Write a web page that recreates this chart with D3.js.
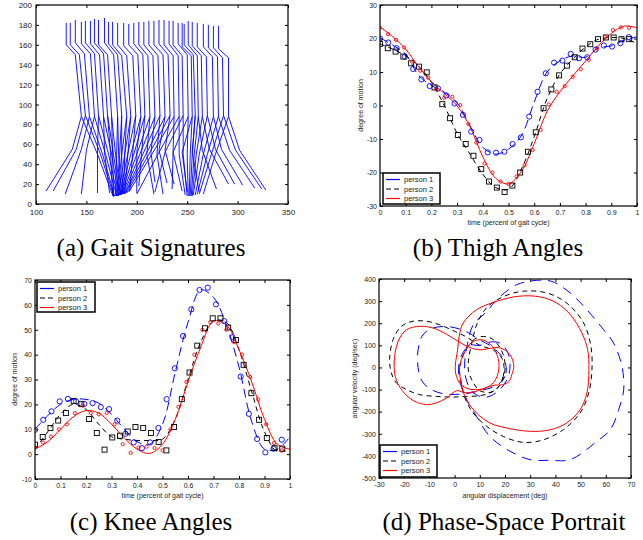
<!DOCTYPE html>
<html>
<head>
<meta charset="utf-8">
<script src="https://cdn.jsdelivr.net/npm/d3@7"></script>
<style>
  body { margin: 0; background: #fff; }
  svg { display: block; background: #fff; }
</style>
</head>
<body>
<svg id="fig" width="643" height="540"></svg>
<script>
// ---------- (a) gait signatures: one value per video frame ----------
const sigNeckX     = [130,134,139,145,149,154,158,162,168,172,176,181,187,192,197,202,207,212,217,222,227,232,236,241,245,247,251,255,260,266,271,276,281];
const sigNeckY     = [182,182,185,183,184,184,186,185,187,183,183,182,182,181,182,183,183,184,184,185,185,184,184,182,182,181,184,183,182,181,180,179,179];
const sigShoulderY = [160,160,162,161,162,161,162,160,162,161,160,160,159,160,161,160,160,160,160,161,160,161,160,161,158,160,160,159,158,158,157,157,156];
const sigChestX    = [139,143,148,154,158,163,167,171,177,181,185,190,196,201,206,211,216,221,226,231,236,241,245,250,254,256,260,264,269,275,280,285,291];
const sigChestY    = [150,150,151,151,151,150,151,150,150,150,149,149,149,150,150,149,149,149,150,150,149,149,149,150,149,150,149,149,148,148,148,147,147];
const sigHipX      = [145,149,153,158,162,167,171,175,181,185,190,194,199,204,208,213,218,223,228,233,237,242,246,251,255,258,261,265,270,276,281,286,291];
const sigHipY      = [88,89,88,88,89,88,89,88,88,89,88,88,89,88,89,88,88,89,88,89,88,88,89,88,88,89,88,88,89,88,88,89,88];
const sigKneeAX    = [161,164,166,169,172,175,177,179,182,185,188,191,196,200,205,210,214,220,222,228,236,242,246,250,253,255,257,259,262,266,270,274,278];
const sigKneeAY    = [50,50,50,50,50,50,49,49,49,49,49,48,52,52,54,50,52,50,54,54,52,50,50,50,50,50,50,50,50,50,50,50,50];
const sigAnkleAX   = [176,177,178,180,181,182,183,184,185,186,187,188,193,200,202,217,218,226,230,237,245,248,250,251,252,253,254,255,256,258,260,262,266];
const sigAnkleAY   = [9,9,8,8,8,8,9,9,9,10,10,10,13,11,18,10,22,10,21,20,13,9,8,8,8,8,8,8,9,9,10,10,10];
const sigKneeBX    = [136,140,145,150,161,168,174,176,180,183,185,188,191,194,197,200,203,206,209,212,215,222,228,236,245,255,265,272,278,284,292,298,302];
const sigKneeBY    = [55,55,55,54,54,52,50,50,50,50,50,50,50,50,50,50,50,50,50,50,50,52,52,52,52,52,54,55,55,55,54,54,54];
const sigAnkleBX   = [110,117,129,145,161,173,176,177,179,180,181,182,183,184,185,186,187,188,189,190,192,200,218,235,250,262,279,291,297,305,317,324,328];
const sigAnkleBY   = [13,13,10,10,11,11,8,7,8,8,8,9,9,9,10,10,10,10,11,11,12,10,12,15,12,12,15,20,20,19,16,15,14];

// ---------- (b) thigh angles: samples over one gait cycle ----------
const thighP1 = [20,18.8,17.1,14.6,10.9,7.8,5.8,5.1,3.0,0.6,-2.8,-7.8,-10.3,-14,-14.1,-13.8,-11.5,-9.5,-3.3,4.1,9.6,12.8,13.4,15.4,14.1,14.4,16.7,17.9,17.6,18.6,20.4];
const thighP2 = [18.4,17.1,16.1,14.6,12.6,11.6,9.9,5.4,0.4,-3.8,-8.8,-11.5,-15,-19,-22.7,-24.5,-25.8,-23.9,-20,-13.8,-8,-0.8,4.8,9.0,11.9,14.4,17,18.3,19.8,20.3,20.3,19.8,19.8];
const thighP3 = [23.2,21.3,19.6,17.3,13.1,10.4,8.3,4.8,2.3,2.6,0.1,-5.5,-11.1,-17.3,-20,-22.7,-23.4,-21.2,-17.8,-13.3,-7.3,0.3,4.1,5.8,8.6,10.8,13.6,17.1,20.5,22.5,23.3,23.2];
// fitted curves, every 0.05 of the cycle
const thighFitP1 = [20.2,18,15.3,9,6,4,0.8,-6,-12.5,-14.5,-13,-9,1,10,13.3,14.8,14.4,17.2,17.8,19.5,20.5];
const thighFitP2 = [18.4,16.8,14.8,11.8,7,0,-8.3,-14.5,-20.5,-24.5,-25,-19,-9.3,2,9.4,13.8,17.5,19.8,20.3,20,18.5];
const thighFitP3 = [23.5,20.5,16.8,11.6,7.1,3.6,-0.1,-6.3,-15.3,-21.7,-23.4,-19.7,-11.4,-1.8,4.1,8.8,13.3,17.8,21.5,23.7,23.2];

// ---------- (c) knee angles ----------
const kneeP1 = [9.8,13.8,17.2,21.2,22.2,21.2,20.2,20.5,18.9,18.1,13.5,8.2,4.7,2.4,4.7,10.5,22.1,34.5,47.5,58.2,66,66.9,60.2,53.5,47,31.2,16.2,6.1,0.7,2.2,5.8];
const kneeP2 = [3.8,6.9,10.5,13.5,16.5,21.4,20.1,14.1,8.5,1.8,6.7,7.4,9.1,10.9,10.5,8.5,4.9,1.5,10.9,22.1,32.8,43.6,50.6,54.6,54.6,50.9,45.9,35.9,24.5,13.8,6.5,2.4,2.2];
const kneeP3 = [2.7,4.7,7,10,12,16.5,19.5,16.5,16,16.5,12,4,0.5,2.7,3,2.5,1.5,10,19,29,40,50,53,52.5,50,45,40,31,22,12,4.5,1.5];
const kneeFitP1 = [10,15.5,20,22,22,20.5,16,10,5,4,12,33,53,66,63,52,35,13,2,2,7];
const kneeFitP2 = [2,9,16,20,18,12,7,6,5.5,5.5,6,14,30,45,53.5,53,42,25,9,1,2];
const kneeFitP3 = [2,5,10,15,17.5,16.5,12,6.5,2,0.3,4,14,29,43,53.5,52,42,29,14,4,2];

// ---------- (d) phase-space loops: [angle, angular velocity] ----------
const phaseThighP1 = [[20.5,0],[20,-40],[18,-70],[15,-90],[10,-105],[5,-118],[0,-122],[-5,-118],[-10,-95],[-13,-60],[-14.5,0],[-14.5,80],[-13,140],[-10,172],[-5,185],[0,180],[5,160],[10,125],[15,92],[19,45]];
const phaseKneeP1  = [[10,100],[14,115],[18,110],[21,70],[22,10],[21,-50],[17,-110],[12,-135],[7,-110],[4.5,-50],[4,20],[5,100],[7.4,193],[12.7,252],[16.7,306],[24.6,374],[32.6,394],[38.6,389],[45.9,337],[52.5,261],[59.1,171],[63.1,110],[66.4,5],[67.1,-101],[65.1,-191],[61.8,-281],[56.5,-334],[45.9,-417],[37.9,-420],[30,-417],[22,-379],[14,-312],[8.7,-221],[5,-150],[2.5,-80],[1.5,-10],[3,60],[6,100]];
const phaseThighP2 = [[19.6,5],[19.3,-40],[17.3,-90],[14,-115],[10,-128],[4.7,-131],[-0.6,-134],[-7.2,-131],[-13.8,-123],[-19.1,-100],[-23.1,-70],[-25.1,-25],[-25.8,35],[-24.4,126],[-21.1,186],[-16.5,209],[-11.2,209],[-5.9,193],[0.1,163],[4.7,138],[10,100],[15.4,78],[18.7,43]];
const phaseKneeP2  = [[2,0],[5,90],[9,135],[14,135],[18,90],[20,20],[19,-60],[15,-110],[10,-105],[7,-60],[5.5,-15],[5.5,30],[7,120],[9,200],[12.7,270],[19.3,320],[27.3,345],[36.6,337],[44.5,291],[51.2,201],[54.1,95],[54.5,-10],[53.2,-116],[49.8,-206],[43.2,-281],[35.3,-327],[27.3,-339],[19.3,-312],[12.7,-266],[7.4,-206],[4.1,-138],[2.5,-60]];
const phaseThighP3 = [[23.5,5],[22.7,-33],[21.7,-62],[19,-78],[16,-80],[12.7,-90],[9.4,-105],[6.1,-114],[3.4,-112],[0.8,-105],[-3.2,-138],[-7.2,-160],[-11.2,-168],[-15.8,-153],[-19.8,-118],[-23.1,-58],[-24,20],[-22.4,118],[-19.1,170],[-13.8,186],[-8.5,178],[-3.2,150],[1.4,118],[6.1,90],[10,80],[14,86],[17.3,90],[20.7,73],[22.7,43]];
const phaseKneeP3  = [[2,0],[4,70],[7,115],[11,125],[15,95],[17.3,40],[17.5,-10],[16,-60],[13,-90],[9,-100],[5,-95],[2,-70],[0.5,-30],[0.3,10],[1.2,80],[1.8,140],[3.4,201],[8.7,261],[16.7,299],[25.3,322],[33.9,319],[40.6,291],[45.9,239],[50.5,156],[52.8,80],[53.3,-10],[52.5,-116],[49.8,-191],[44.5,-251],[37.9,-282],[30,-289],[20.7,-274],[14,-251],[8.7,-206],[4.7,-146],[2.6,-70]];

// ---------- tick labels and legend ----------
const sigXTicks = [100,150,200,250,300,350];
const sigYTicks = [0,20,40,60,80,100,120,140,160,180,200];
const cycleTicks = [0,0.1,0.2,0.3,0.4,0.5,0.6,0.7,0.8,0.9,1];
const thighTicks = [-30,-20,-10,0,10,20,30];
const kneeTicks = [-10,0,10,20,30,40,50,60,70];
const dispTicks = [-30,-20,-10,0,10,20,30,40,50,60,70];
const velTicks = [-500,-400,-300,-200,-100,0,100,200,300,400];
const persons = ["person 1","person 2","person 3"];

const FONT = '"Liberation Sans", Arial, sans-serif';
const SERIF = '"Liberation Serif", "Times New Roman", serif';
const colors = ["#0000ff", "#000000", "#ff0000"];
const dashes = ["9,5", "5,4", null];
const svg = d3.select("#fig");

function makePanel(o) {
  const x = d3.scaleLinear().domain(o.xDomain).range([o.left, o.right]);
  const y = d3.scaleLinear().domain(o.yDomain).range([o.bottom, o.top]);
  const g = svg.append("g");
  g.append("clipPath").attr("id", "clip-" + o.name).append("rect")
    .attr("x", o.left).attr("y", o.top).attr("width", o.right - o.left).attr("height", o.bottom - o.top);
  const fmt = d => String(d);
  const style = sel => {
    sel.select(".domain").remove();
    sel.selectAll("text").attr("font-family", FONT).attr("font-size", o.fs).attr("fill", "#222");
    sel.selectAll(".tick line").attr("stroke", "#000");
  };
  g.append("g").attr("transform", `translate(0,${o.bottom})`)
    .call(d3.axisBottom(x).tickValues(o.xTicks).tickFormat(fmt).tickSize(-3).tickPadding(o.xPad)).call(style);
  g.append("g").attr("transform", `translate(0,${o.top})`)
    .call(d3.axisTop(x).tickValues(o.xTicks).tickFormat("").tickSize(-3)).call(style);
  g.append("g").attr("transform", `translate(${o.left},0)`)
    .call(d3.axisLeft(y).tickValues(o.yTicks).tickFormat(fmt).tickSize(-3).tickPadding(o.yPad)).call(style);
  g.append("g").attr("transform", `translate(${o.right},0)`)
    .call(d3.axisRight(y).tickValues(o.yTicks).tickFormat("").tickSize(-3)).call(style);
  const plot = g.append("g").attr("clip-path", `url(#clip-${o.name})`);
  g.append("rect").attr("x", o.left).attr("y", o.top)
    .attr("width", o.right - o.left).attr("height", o.bottom - o.top)
    .attr("fill", "none").attr("stroke", "#000").attr("stroke-width", 1.2);
  if (o.xLabel) g.append("text").attr("x", (o.left + o.right) / 2).attr("y", o.xLabelY)
    .attr("text-anchor", "middle").attr("font-family", FONT).attr("font-size", 7).attr("fill", "#222").text(o.xLabel);
  if (o.yLabel) g.append("text").attr("transform", `translate(${o.yLabelX},${(o.top + o.bottom) / 2}) rotate(-90)`)
    .attr("text-anchor", "middle").attr("font-family", FONT).attr("font-size", 7).attr("fill", "#222").text(o.yLabel);
  return { g, plot, x, y };
}

function legend(p, x0, y0, w, h) {
  const lg = p.g.append("g");
  lg.append("rect").attr("x", x0).attr("y", y0).attr("width", w).attr("height", h)
    .attr("fill", "#fff").attr("stroke", "#000").attr("stroke-width", 1.5);
  persons.forEach((name, i) => {
    const yy = y0 + 6.5 + i * 9.5;
    lg.append("line").attr("x1", x0 + 3).attr("x2", x0 + 17).attr("y1", yy).attr("y2", yy)
      .attr("stroke", colors[i]).attr("stroke-width", 1.2).attr("stroke-dasharray", i === 1 ? "5,3" : null);
    lg.append("text").attr("x", x0 + 21).attr("y", yy + 2.5).attr("font-family", FONT)
      .attr("font-size", 7.5).attr("fill", "#222").text(name);
  });
}

function caption(text, cx, cy) {
  svg.append("text").attr("x", cx).attr("y", cy).attr("text-anchor", "middle")
    .attr("font-family", SERIF).attr("font-size", 25).attr("fill", "#000").text(text);
}

// ---------- panel (a) ----------
const pa = makePanel({ name: "a", left: 36, right: 288, top: 5, bottom: 204,
  xDomain: [100, 350], yDomain: [0, 200], xTicks: sigXTicks, yTicks: sigYTicks, fs: 8, xPad: 5, yPad: 4 });
const polyline = d3.line().x(d => pa.x(d[0])).y(d => pa.y(d[1]));
sigNeckX.forEach((nx, i) => {
  const hip = [sigHipX[i], sigHipY[i]];
  const parts = [
    [[nx, sigNeckY[i]], [nx, sigShoulderY[i]], [sigChestX[i], sigChestY[i]], hip],
    [hip, [sigKneeAX[i], sigKneeAY[i]], [sigAnkleAX[i], sigAnkleAY[i]]],
    [hip, [sigKneeBX[i], sigKneeBY[i]], [sigAnkleBX[i], sigAnkleBY[i]]]
  ];
  parts.forEach(pts => pa.plot.append("path").attr("d", polyline(pts))
    .attr("fill", "none").attr("stroke", "#0000ff").attr("stroke-width", 0.9));
});

// ---------- helpers for (b) and (c) ----------
function drawCycle(p, fits, samples) {
  const line = d3.line().curve(d3.curveCatmullRom.alpha(0.5))
    .x((d, i, arr) => p.x(i / (arr.length - 1))).y(d => p.y(d));
  fits.forEach((f, k) => p.plot.append("path").attr("d", line(f)).attr("fill", "none")
    .attr("stroke", colors[k]).attr("stroke-width", 1).attr("stroke-dasharray", dashes[k]));
  samples.forEach((s, k) => {
    const pts = s.map((v, i) => [p.x(i / s.length), p.y(v)]);
    const sel = p.plot.append("g").attr("fill", "none").attr("stroke", colors[k]).attr("stroke-width", 0.9);
    if (k === 1) {
      sel.selectAll("rect").data(pts).join("rect")
        .attr("x", d => d[0] - 2.5).attr("y", d => d[1] - 2.5).attr("width", 5).attr("height", 5);
    } else {
      sel.selectAll("circle").data(pts).join("circle")
        .attr("cx", d => d[0]).attr("cy", d => d[1]).attr("r", k === 0 ? 2.6 : 1.6);
    }
  });
}

// ---------- panel (b) ----------
const pb = makePanel({ name: "b", left: 380, right: 637, top: 5, bottom: 206,
  xDomain: [0, 1], yDomain: [-30, 30], xTicks: cycleTicks, yTicks: thighTicks, fs: 7, xPad: 4, yPad: 3,
  xLabel: "time (percent of gait cycle)", xLabelY: 225, yLabel: "degree of motion", yLabelX: 363 });
drawCycle(pb, [thighFitP1, thighFitP2, thighFitP3], [thighP1, thighP2, thighP3]);
legend(pb, 383, 173, 57, 31);

// ---------- panel (c) ----------
const pc = makePanel({ name: "c", left: 35, right: 290, top: 280, bottom: 479,
  xDomain: [0, 1], yDomain: [-10, 70], xTicks: cycleTicks, yTicks: kneeTicks, fs: 7, xPad: 4, yPad: 3,
  xLabel: "time (percent of gait cycle)", xLabelY: 498, yLabel: "degree of motion", yLabelX: 17 });
drawCycle(pc, [kneeFitP1, kneeFitP2, kneeFitP3], [kneeP1, kneeP2, kneeP3]);
legend(pc, 37, 282, 58, 30);

// ---------- panel (d) ----------
const pd = makePanel({ name: "d", left: 379, right: 631, top: 279, bottom: 478,
  xDomain: [-30, 70], yDomain: [-500, 400], xTicks: dispTicks, yTicks: velTicks, fs: 7, xPad: 4, yPad: 3,
  xLabel: "angular displacement (deg)", xLabelY: 498, yLabel: "angular velocity (deg/sec)", yLabelX: 357 });
const loop = d3.line().curve(d3.curveCatmullRomClosed.alpha(0.5)).x(d => pd.x(d[0])).y(d => pd.y(d[1]));
[[phaseThighP1, phaseKneeP1], [phaseThighP2, phaseKneeP2], [phaseThighP3, phaseKneeP3]].forEach((pair, k) => {
  pair.forEach(pts => pd.plot.append("path").attr("d", loop(pts)).attr("fill", "none")
    .attr("stroke", colors[k]).attr("stroke-width", 1).attr("stroke-dasharray", k === 0 ? "10,7" : dashes[k]));
});
legend(pd, 380, 445, 57, 32);

// ---------- captions ----------
caption("(a) Gait Signatures", 151, 256);
caption("(b) Thigh Angles", 498, 256);
caption("(c) Knee Angles", 151, 530);
caption("(d) Phase-Space Portrait", 504, 530);
</script>
</body>
</html>
